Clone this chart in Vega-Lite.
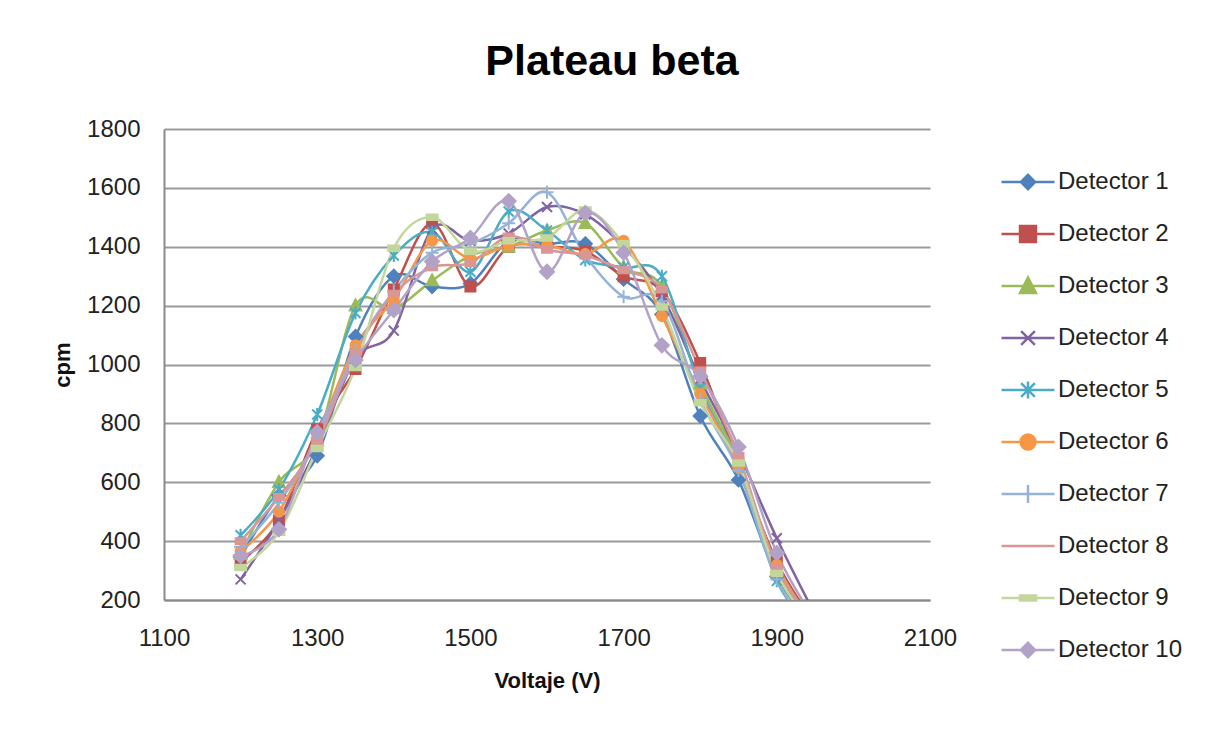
{
  "$schema": "https://vega.github.io/schema/vega-lite/v6.json",
  "autosize": "none",
  "width": 766,
  "height": 471,
  "padding": {"left": 164, "top": 129, "right": 289, "bottom": 129},
  "background": "white",
  "title": {"text": "Plateau beta", "font": "Liberation Sans", "fontSize": 43, "fontWeight": "bold", "color": "#000000", "anchor": "middle", "frame": "group", "offset": 33, "dx": 65},
  "config": {
    "view": {"stroke": null},
    "axis": {"labelFont": "Liberation Sans", "labelFontSize": 24, "labelColor": "#222222", "titleFont": "Liberation Sans", "titleFontSize": 22, "titleFontWeight": "bold", "titleColor": "#111111", "domainColor": "#8a8a8a", "domainWidth": 2, "ticks": false, "gridColor": "#9a9a9a", "gridWidth": 2, "format": "d"},
    "legend": {"orient": "none", "legendX": 836, "legendY": 25, "title": null, "symbolSize": 2809, "labelFont": "Liberation Sans", "labelFontSize": 24, "labelColor": "#222222", "labelOffset": 2, "rowPadding": 5, "padding": 0, "symbolStrokeWidth": 2.5, "symbolOpacity": 1}
  },
  "data": {"values": [
    {"detector": "Detector 1", "V": 1200, "cpm": 345}, {"detector": "Detector 1", "V": 1250, "cpm": 555}, {"detector": "Detector 1", "V": 1300, "cpm": 690}, {"detector": "Detector 1", "V": 1350, "cpm": 1095}, {"detector": "Detector 1", "V": 1400, "cpm": 1300}, {"detector": "Detector 1", "V": 1450, "cpm": 1265}, {"detector": "Detector 1", "V": 1500, "cpm": 1275}, {"detector": "Detector 1", "V": 1550, "cpm": 1420}, {"detector": "Detector 1", "V": 1600, "cpm": 1410}, {"detector": "Detector 1", "V": 1650, "cpm": 1410}, {"detector": "Detector 1", "V": 1700, "cpm": 1290}, {"detector": "Detector 1", "V": 1750, "cpm": 1170}, {"detector": "Detector 1", "V": 1800, "cpm": 825}, {"detector": "Detector 1", "V": 1850, "cpm": 608}, {"detector": "Detector 1", "V": 1900, "cpm": 280}, {"detector": "Detector 1", "V": 1950, "cpm": 110},
    {"detector": "Detector 2", "V": 1200, "cpm": 330}, {"detector": "Detector 2", "V": 1250, "cpm": 470}, {"detector": "Detector 2", "V": 1300, "cpm": 780}, {"detector": "Detector 2", "V": 1350, "cpm": 985}, {"detector": "Detector 2", "V": 1400, "cpm": 1255}, {"detector": "Detector 2", "V": 1450, "cpm": 1480}, {"detector": "Detector 2", "V": 1500, "cpm": 1265}, {"detector": "Detector 2", "V": 1550, "cpm": 1400}, {"detector": "Detector 2", "V": 1600, "cpm": 1400}, {"detector": "Detector 2", "V": 1650, "cpm": 1385}, {"detector": "Detector 2", "V": 1700, "cpm": 1300}, {"detector": "Detector 2", "V": 1750, "cpm": 1250}, {"detector": "Detector 2", "V": 1800, "cpm": 1005}, {"detector": "Detector 2", "V": 1850, "cpm": 660}, {"detector": "Detector 2", "V": 1900, "cpm": 330}, {"detector": "Detector 2", "V": 1950, "cpm": 120},
    {"detector": "Detector 3", "V": 1200, "cpm": 355}, {"detector": "Detector 3", "V": 1250, "cpm": 600}, {"detector": "Detector 3", "V": 1300, "cpm": 740}, {"detector": "Detector 3", "V": 1350, "cpm": 1200}, {"detector": "Detector 3", "V": 1400, "cpm": 1190}, {"detector": "Detector 3", "V": 1450, "cpm": 1285}, {"detector": "Detector 3", "V": 1500, "cpm": 1370}, {"detector": "Detector 3", "V": 1550, "cpm": 1400}, {"detector": "Detector 3", "V": 1600, "cpm": 1455}, {"detector": "Detector 3", "V": 1650, "cpm": 1480}, {"detector": "Detector 3", "V": 1700, "cpm": 1330}, {"detector": "Detector 3", "V": 1750, "cpm": 1265}, {"detector": "Detector 3", "V": 1800, "cpm": 935}, {"detector": "Detector 3", "V": 1850, "cpm": 670}, {"detector": "Detector 3", "V": 1900, "cpm": 310}, {"detector": "Detector 3", "V": 1950, "cpm": 100},
    {"detector": "Detector 4", "V": 1200, "cpm": 270}, {"detector": "Detector 4", "V": 1250, "cpm": 470}, {"detector": "Detector 4", "V": 1300, "cpm": 720}, {"detector": "Detector 4", "V": 1350, "cpm": 1020}, {"detector": "Detector 4", "V": 1400, "cpm": 1115}, {"detector": "Detector 4", "V": 1450, "cpm": 1460}, {"detector": "Detector 4", "V": 1500, "cpm": 1420}, {"detector": "Detector 4", "V": 1550, "cpm": 1445}, {"detector": "Detector 4", "V": 1600, "cpm": 1535}, {"detector": "Detector 4", "V": 1650, "cpm": 1510}, {"detector": "Detector 4", "V": 1700, "cpm": 1400}, {"detector": "Detector 4", "V": 1750, "cpm": 1235}, {"detector": "Detector 4", "V": 1800, "cpm": 950}, {"detector": "Detector 4", "V": 1850, "cpm": 700}, {"detector": "Detector 4", "V": 1900, "cpm": 410}, {"detector": "Detector 4", "V": 1950, "cpm": 150},
    {"detector": "Detector 5", "V": 1200, "cpm": 420}, {"detector": "Detector 5", "V": 1250, "cpm": 575}, {"detector": "Detector 5", "V": 1300, "cpm": 830}, {"detector": "Detector 5", "V": 1350, "cpm": 1175}, {"detector": "Detector 5", "V": 1400, "cpm": 1370}, {"detector": "Detector 5", "V": 1450, "cpm": 1450}, {"detector": "Detector 5", "V": 1500, "cpm": 1315}, {"detector": "Detector 5", "V": 1550, "cpm": 1520}, {"detector": "Detector 5", "V": 1600, "cpm": 1455}, {"detector": "Detector 5", "V": 1650, "cpm": 1355}, {"detector": "Detector 5", "V": 1700, "cpm": 1330}, {"detector": "Detector 5", "V": 1750, "cpm": 1300}, {"detector": "Detector 5", "V": 1800, "cpm": 920}, {"detector": "Detector 5", "V": 1850, "cpm": 650}, {"detector": "Detector 5", "V": 1900, "cpm": 265}, {"detector": "Detector 5", "V": 1950, "cpm": 90},
    {"detector": "Detector 6", "V": 1200, "cpm": 365}, {"detector": "Detector 6", "V": 1250, "cpm": 500}, {"detector": "Detector 6", "V": 1300, "cpm": 760}, {"detector": "Detector 6", "V": 1350, "cpm": 1065}, {"detector": "Detector 6", "V": 1400, "cpm": 1220}, {"detector": "Detector 6", "V": 1450, "cpm": 1420}, {"detector": "Detector 6", "V": 1500, "cpm": 1360}, {"detector": "Detector 6", "V": 1550, "cpm": 1405}, {"detector": "Detector 6", "V": 1600, "cpm": 1405}, {"detector": "Detector 6", "V": 1650, "cpm": 1375}, {"detector": "Detector 6", "V": 1700, "cpm": 1420}, {"detector": "Detector 6", "V": 1750, "cpm": 1165}, {"detector": "Detector 6", "V": 1800, "cpm": 900}, {"detector": "Detector 6", "V": 1850, "cpm": 650}, {"detector": "Detector 6", "V": 1900, "cpm": 320}, {"detector": "Detector 6", "V": 1950, "cpm": 110},
    {"detector": "Detector 7", "V": 1200, "cpm": 380}, {"detector": "Detector 7", "V": 1250, "cpm": 530}, {"detector": "Detector 7", "V": 1300, "cpm": 750}, {"detector": "Detector 7", "V": 1350, "cpm": 1050}, {"detector": "Detector 7", "V": 1400, "cpm": 1250}, {"detector": "Detector 7", "V": 1450, "cpm": 1380}, {"detector": "Detector 7", "V": 1500, "cpm": 1410}, {"detector": "Detector 7", "V": 1550, "cpm": 1480}, {"detector": "Detector 7", "V": 1600, "cpm": 1585}, {"detector": "Detector 7", "V": 1650, "cpm": 1370}, {"detector": "Detector 7", "V": 1700, "cpm": 1230}, {"detector": "Detector 7", "V": 1750, "cpm": 1215}, {"detector": "Detector 7", "V": 1800, "cpm": 880}, {"detector": "Detector 7", "V": 1850, "cpm": 640}, {"detector": "Detector 7", "V": 1900, "cpm": 270}, {"detector": "Detector 7", "V": 1950, "cpm": 90},
    {"detector": "Detector 8", "V": 1200, "cpm": 400}, {"detector": "Detector 8", "V": 1250, "cpm": 550}, {"detector": "Detector 8", "V": 1300, "cpm": 735}, {"detector": "Detector 8", "V": 1350, "cpm": 1040}, {"detector": "Detector 8", "V": 1400, "cpm": 1240}, {"detector": "Detector 8", "V": 1450, "cpm": 1330}, {"detector": "Detector 8", "V": 1500, "cpm": 1345}, {"detector": "Detector 8", "V": 1550, "cpm": 1435}, {"detector": "Detector 8", "V": 1600, "cpm": 1390}, {"detector": "Detector 8", "V": 1650, "cpm": 1370}, {"detector": "Detector 8", "V": 1700, "cpm": 1320}, {"detector": "Detector 8", "V": 1750, "cpm": 1255}, {"detector": "Detector 8", "V": 1800, "cpm": 980}, {"detector": "Detector 8", "V": 1850, "cpm": 690}, {"detector": "Detector 8", "V": 1900, "cpm": 310}, {"detector": "Detector 8", "V": 1950, "cpm": 130},
    {"detector": "Detector 9", "V": 1200, "cpm": 310}, {"detector": "Detector 9", "V": 1250, "cpm": 430}, {"detector": "Detector 9", "V": 1300, "cpm": 715}, {"detector": "Detector 9", "V": 1350, "cpm": 990}, {"detector": "Detector 9", "V": 1400, "cpm": 1395}, {"detector": "Detector 9", "V": 1450, "cpm": 1500}, {"detector": "Detector 9", "V": 1500, "cpm": 1385}, {"detector": "Detector 9", "V": 1550, "cpm": 1420}, {"detector": "Detector 9", "V": 1600, "cpm": 1430}, {"detector": "Detector 9", "V": 1650, "cpm": 1525}, {"detector": "Detector 9", "V": 1700, "cpm": 1410}, {"detector": "Detector 9", "V": 1750, "cpm": 1195}, {"detector": "Detector 9", "V": 1800, "cpm": 870}, {"detector": "Detector 9", "V": 1850, "cpm": 665}, {"detector": "Detector 9", "V": 1900, "cpm": 290}, {"detector": "Detector 9", "V": 1950, "cpm": 110},
    {"detector": "Detector 10", "V": 1200, "cpm": 350}, {"detector": "Detector 10", "V": 1250, "cpm": 440}, {"detector": "Detector 10", "V": 1300, "cpm": 770}, {"detector": "Detector 10", "V": 1350, "cpm": 1015}, {"detector": "Detector 10", "V": 1400, "cpm": 1185}, {"detector": "Detector 10", "V": 1450, "cpm": 1350}, {"detector": "Detector 10", "V": 1500, "cpm": 1430}, {"detector": "Detector 10", "V": 1550, "cpm": 1555}, {"detector": "Detector 10", "V": 1600, "cpm": 1315}, {"detector": "Detector 10", "V": 1650, "cpm": 1515}, {"detector": "Detector 10", "V": 1700, "cpm": 1380}, {"detector": "Detector 10", "V": 1750, "cpm": 1065}, {"detector": "Detector 10", "V": 1800, "cpm": 960}, {"detector": "Detector 10", "V": 1850, "cpm": 720}, {"detector": "Detector 10", "V": 1900, "cpm": 360}, {"detector": "Detector 10", "V": 1950, "cpm": 130}
  ]},
  "encoding": {
    "x": {"field": "V", "type": "quantitative", "scale": {"domain": [1100, 2100], "nice": false, "zero": false}, "axis": {"values": [1100, 1300, 1500, 1700, 1900, 2100], "title": "Voltaje (V)", "grid": false, "labelPadding": 26, "titlePadding": 20, "labelFlush": false}},
    "y": {"field": "cpm", "type": "quantitative", "scale": {"domain": [200, 1800], "nice": false, "zero": false}, "axis": {"values": [200, 400, 600, 800, 1000, 1200, 1400, 1600, 1800], "title": "cpm", "grid": true, "labelPadding": 24, "titlePadding": 12, "labelFlush": false}}
  },
  "layer": [
    {
      "mark": {"type": "line", "interpolate": "cardinal", "strokeWidth": 2.5, "clip": true},
      "encoding": {
        "color": {"field": "detector", "type": "nominal", "legend": null,
          "scale": {"domain": ["Detector 1", "Detector 2", "Detector 3", "Detector 4", "Detector 5", "Detector 6", "Detector 7", "Detector 8", "Detector 9", "Detector 10"],
                    "range": ["#4F81BD", "#C0504D", "#9BBB59", "#8064A2", "#4BACC6", "#F79646", "#95B3D7", "#D99694", "#C3D69B", "#B3A2C7"]}}
      }
    },
    {
      "mark": {"type": "point", "filled": true, "size": 100, "strokeWidth": 2, "opacity": 1, "clip": true},
      "encoding": {
        "color": {"field": "detector", "type": "nominal", "legend": null,
          "scale": {"domain": ["Detector 1", "Detector 2", "Detector 3", "Detector 4", "Detector 5", "Detector 6", "Detector 7", "Detector 8", "Detector 9", "Detector 10"],
                    "range": ["#4F81BD", "#C0504D", "#9BBB59", "#8064A2", "#4BACC6", "#F79646", "#95B3D7", "#D99694", "#C3D69B", "#B3A2C7"]}},
        "stroke": {"field": "detector", "type": "nominal", "legend": null,
          "scale": {"domain": ["Detector 1", "Detector 2", "Detector 3", "Detector 4", "Detector 5", "Detector 6", "Detector 7", "Detector 8", "Detector 9", "Detector 10"],
                    "range": ["#4F81BD", "#C0504D", "#9BBB59", "#8064A2", "#4BACC6", "#F79646", "#95B3D7", "#D99694", "#C3D69B", "#B3A2C7"]}},
        "shape": {"field": "detector", "type": "nominal", "legend": null,
          "scale": {"domain": ["Detector 1", "Detector 2", "Detector 3", "Detector 4", "Detector 5", "Detector 6", "Detector 7", "Detector 8", "Detector 9", "Detector 10"],
                    "range": ["M0,-1.3L1.3,0L0,1.3L-1.3,0Z", "M-1,-1H1V1H-1Z", "M0,-1.25L1.15,0.95H-1.15Z", "M-1,-1L1,1M-1,1L1,-1", "M-1,-1L1,1M-1,1L1,-1M0,-1.3V1.3", "circle", "M-1.3,0H1.3M0,-1.3V1.3", "M-1,-0.6H1V0.6H-1Z", "M-1.1,-0.55H1.1V0.55H-1.1Z", "M0,-1.4L1.4,0L0,1.4L-1.4,0Z"]}}
      }
    },
    {
      "transform": [{"filter": "datum.V < 0"}],
      "mark": {"type": "point", "filled": true, "opacity": 0},
      "encoding": {
        "color": {"field": "detector", "type": "nominal",
          "scale": {"domain": ["Detector 1", "Detector 2", "Detector 3", "Detector 4", "Detector 5", "Detector 6", "Detector 7", "Detector 8", "Detector 9", "Detector 10"],
                    "range": ["#4F81BD", "#C0504D", "#9BBB59", "#8064A2", "#4BACC6", "#F79646", "#95B3D7", "#D99694", "#C3D69B", "#B3A2C7"]}},
        "stroke": {"field": "detector", "type": "nominal",
          "scale": {"domain": ["Detector 1", "Detector 2", "Detector 3", "Detector 4", "Detector 5", "Detector 6", "Detector 7", "Detector 8", "Detector 9", "Detector 10"],
                    "range": ["#4F81BD", "#C0504D", "#9BBB59", "#8064A2", "#4BACC6", "#F79646", "#95B3D7", "#D99694", "#C3D69B", "#B3A2C7"]}},
        "shape": {"field": "detector", "type": "nominal",
          "scale": {"domain": ["Detector 1", "Detector 2", "Detector 3", "Detector 4", "Detector 5", "Detector 6", "Detector 7", "Detector 8", "Detector 9", "Detector 10"],
                    "range": ["M0,-0.5M0,0.5M-1,0H1M0,-0.27L0.27,0L0,0.27L-0.27,0Z", "M0,-0.5M0,0.5M-1,0H1M-0.3,-0.3H0.3V0.3H-0.3Z", "M0,-0.5M0,0.5M-1,0H1M0,-0.32L0.3,0.26H-0.3Z", "M0,-0.5M0,0.5M-1,0H1M-0.26,-0.26L0.26,0.26M-0.26,0.26L0.26,-0.26", "M0,-0.5M0,0.5M-1,0H1M-0.26,-0.26L0.26,0.26M-0.26,0.26L0.26,-0.26M0,-0.32V0.32", "M0,-0.5M0,0.5M-1,0H1M-0.28,0A0.28,0.28,0,1,0,0.28,0A0.28,0.28,0,1,0,-0.28,0Z", "M0,-0.5M0,0.5M-1,0H1M0,-0.34V0.34", "M0,-0.5M0,0.5M-1,0H1", "M0,-0.5M0,0.5M-1,0H1M-0.3,-0.09H0.3V0.09H-0.3Z", "M0,-0.5M0,0.5M-1,0H1M0,-0.27L0.27,0L0,0.27L-0.27,0Z"]}}
      }
    }
  ],
  "resolve": {"scale": {"color": "independent", "stroke": "independent", "shape": "independent"}}
}
